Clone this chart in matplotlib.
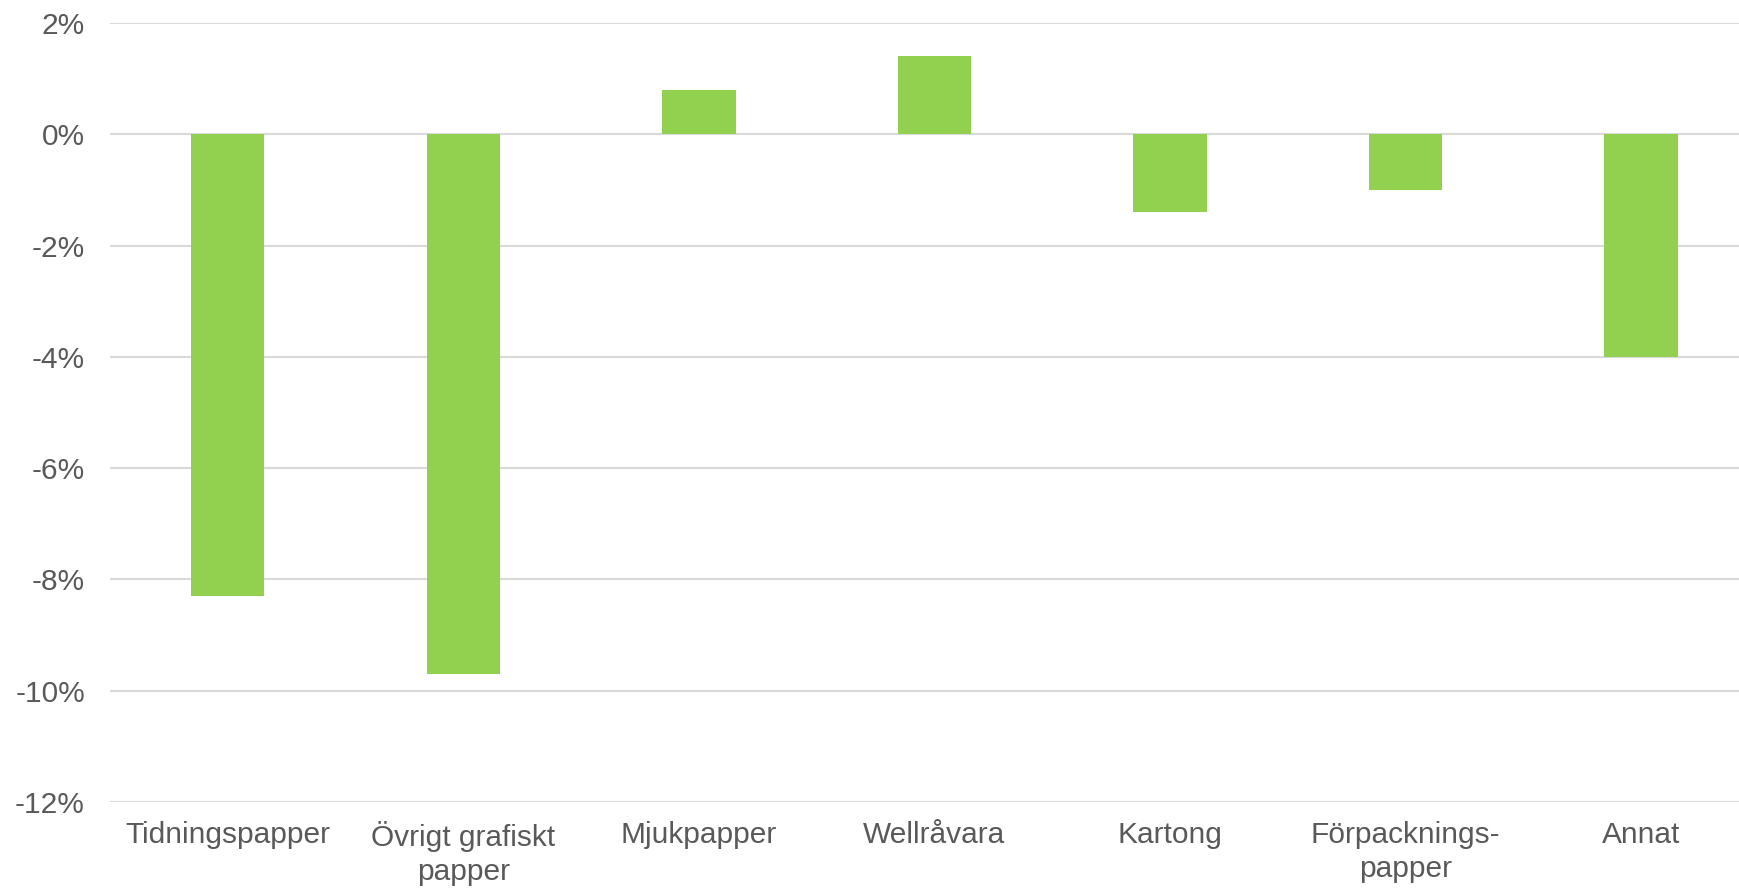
import matplotlib
matplotlib.use("Agg")
import matplotlib.pyplot as plt
from matplotlib.ticker import FuncFormatter

categories = ["Tidningspapper", "Övrigt grafiskt\npapper", "Mjukpapper", "Wellråvara",
              "Kartong", "Förpacknings-\npapper", "Annat"]
values = [-8.3, -9.7, 0.8, 1.4, -1.4, -1.0, -4.0]
yticks = [2, 0, -2, -4, -6, -8, -10, -12]

plt.rcParams['font.family'] = ['Liberation Sans', 'DejaVu Sans']

fig = plt.figure(figsize=(17.4, 8.88), dpi=100)
ax = fig.add_axes([110/1740, 1-802/888, 1-110/1740, (802-23)/888])

x = list(range(len(categories)))
ax.bar(x, values, width=0.311, color="#92D050", zorder=3)

ax.set_xlim(-0.5, 6.42)
ax.set_ylim(-12, 2)
ax.set_yticks(yticks)
ax.yaxis.set_major_formatter(FuncFormatter(lambda v, p: f"{int(round(v))}%"))
ax.set_xticks(x)
ax.set_xticklabels(categories, linespacing=1.27)
ax.grid(axis='y', color="#D9D9D9", linewidth=1.5, zorder=0)
ax.set_axisbelow(True)
for s in ax.spines.values():
    s.set_visible(False)
ax.tick_params(axis='both', length=0, labelsize=21.5, labelcolor="#595959")
ax.tick_params(axis='y', pad=18)
ax.tick_params(axis='x', pad=14)

fig.savefig("out.png", dpi=100)
